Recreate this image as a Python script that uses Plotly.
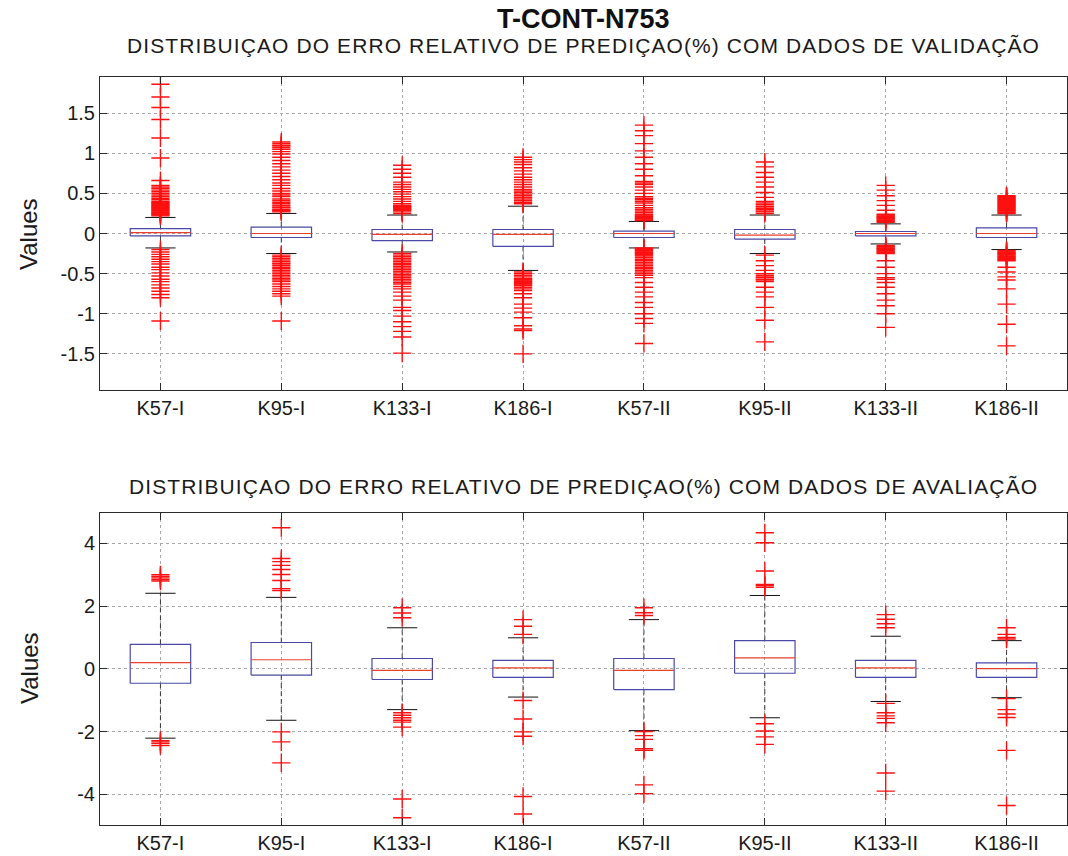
import plotly.graph_objects as go

# ---------------- data ----------------
categories = ["K57-I", "K95-I", "K133-I", "K186-I", "K57-II", "K95-II", "K133-II", "K186-II"]

# validation data (top panel)
val_q1 = [-0.03, -0.05, -0.09, -0.16, -0.05, -0.07, -0.03, -0.05]
val_med = [0.01, 0.00, -0.01, -0.01, 0.00, -0.02, 0.00, 0.00]
val_q3 = [0.06, 0.08, 0.05, 0.05, 0.03, 0.05, 0.025, 0.07]
val_lw = [-0.18, -0.25, -0.23, -0.46, -0.18, -0.25, -0.13, -0.20]
val_uw = [0.20, 0.25, 0.23, 0.34, 0.15, 0.23, 0.12, 0.23]
val_out = [
    [0.22, 0.23, 0.24, 0.25, 0.26, 0.27, 0.28, 0.29, 0.30, 0.31, 0.32, 0.33, 0.34, 0.35, 0.36,
     0.37, 0.38, 0.39, 0.40, 0.42, 0.44, 0.46, 0.48, 0.50, 0.52, 0.54, 0.56, 0.58, 0.60, 0.66,
     0.94, 1.19, 1.42, 1.57, 1.70, 1.86,
     -0.20, -0.23, -0.26, -0.29, -0.32, -0.35, -0.38, -0.42, -0.45, -0.49, -0.53, -0.57, -0.60,
     -0.64, -0.68, -0.72, -0.76, -0.80, -1.09],
    [0.27, 0.28, 0.29, 0.30, 0.32, 0.33, 0.35, 0.37, 0.39, 0.41, 0.43, 0.46, 0.48, 0.50, 0.53,
     0.56, 0.60, 0.63, 0.67, 0.71, 0.75, 0.79, 0.83, 0.87, 0.91, 0.95, 0.99, 1.02, 1.05, 1.07,
     1.09, 1.10, 1.12, 1.14,
     -0.27, -0.29, -0.31, -0.33, -0.35, -0.37, -0.38, -0.40, -0.42, -0.44, -0.46, -0.48, -0.50,
     -0.52, -0.54, -0.56, -0.58, -0.60, -0.63, -0.66, -0.69, -0.72, -0.75, -0.78, -1.09],
    [0.25, 0.27, 0.29, 0.30, 0.31, 0.32, 0.33, 0.34, 0.35, 0.37, 0.40, 0.43, 0.46, 0.49, 0.52,
     0.55, 0.58, 0.61, 0.64, 0.70, 0.75, 0.80, 0.85,
     -0.25, -0.27, -0.29, -0.31, -0.33, -0.35, -0.37, -0.39, -0.41, -0.43, -0.45, -0.47, -0.49,
     -0.51, -0.53, -0.55, -0.57, -0.59, -0.61, -0.63, -0.66, -0.69, -0.73, -0.78, -0.83, -0.92,
     -0.96, -1.03, -1.10, -1.16, -1.22, -1.29, -1.49],
    [0.37, 0.39, 0.41, 0.43, 0.45, 0.47, 0.49, 0.51, 0.53, 0.55, 0.58, 0.61, 0.64, 0.67, 0.70,
     0.74, 0.78, 0.82, 0.86, 0.89, 0.92, 0.95,
     -0.48, -0.50, -0.52, -0.54, -0.56, -0.57, -0.58, -0.59, -0.60, -0.61, -0.62, -0.63, -0.64,
     -0.65, -0.67, -0.69, -0.71, -0.75, -0.80, -0.88, -0.93, -0.98, -1.05, -1.15, -1.19, -1.21,
     -1.50],
    [0.16, 0.17, 0.18, 0.19, 0.20, 0.21, 0.22, 0.23, 0.24, 0.26, 0.28, 0.30, 0.32, 0.35, 0.38,
     0.40, 0.42, 0.44, 0.46, 0.50, 0.54, 0.58, 0.61, 0.63, 0.65, 0.72, 0.80, 0.87, 0.95, 1.03,
     1.12, 1.22, 1.28, 1.35,
     -0.18, -0.19, -0.20, -0.21, -0.22, -0.23, -0.24, -0.25, -0.26, -0.27, -0.28, -0.30, -0.32,
     -0.34, -0.36, -0.38, -0.40, -0.42, -0.44, -0.46, -0.48, -0.50, -0.52, -0.55, -0.61, -0.67,
     -0.73, -0.79, -0.86, -0.92, -1.00, -1.06, -1.12, -1.37],
    [0.25, 0.27, 0.28, 0.30, 0.31, 0.33, 0.34, 0.36, 0.38, 0.40, 0.45, 0.51, 0.58, 0.64, 0.70,
     0.76, 0.83, 0.89,
     -0.27, -0.34, -0.40, -0.46, -0.50, -0.52, -0.54, -0.55, -0.57, -0.58, -0.60, -0.67, -0.73,
     -0.79, -0.92, -1.08, -1.35],
    [0.14, 0.15, 0.16, 0.17, 0.18, 0.19, 0.20, 0.21, 0.22, 0.23, 0.24, 0.29, 0.35, 0.41, 0.47,
     0.54, 0.60,
     -0.15, -0.16, -0.17, -0.18, -0.19, -0.20, -0.21, -0.22, -0.23, -0.24, -0.25, -0.34, -0.42,
     -0.50, -0.55, -0.57, -0.61, -0.67, -0.75, -0.83, -0.90, -1.00, -1.17],
    [0.25, 0.26, 0.27, 0.28, 0.29, 0.30, 0.31, 0.32, 0.33, 0.34, 0.35, 0.36, 0.37, 0.38, 0.39,
     0.40, 0.41, 0.42, 0.43, 0.44, 0.45, 0.46, 0.47,
     -0.21, -0.22, -0.23, -0.24, -0.25, -0.26, -0.27, -0.28, -0.29, -0.30, -0.31, -0.32, -0.33,
     -0.34, -0.42, -0.48, -0.54, -0.58, -0.69, -0.88, -1.13, -1.40],
]

# evaluation data (bottom panel)
eval_q1 = [-0.46, -0.20, -0.34, -0.27, -0.66, -0.14, -0.27, -0.27]
eval_med = [0.20, 0.29, -0.05, 0.03, -0.05, 0.35, 0.03, 0.01]
eval_q3 = [0.78, 0.84, 0.33, 0.27, 0.33, 0.90, 0.27, 0.19]
eval_lw = [-2.21, -1.64, -1.30, -0.90, -1.97, -1.56, -1.04, -0.92]
eval_uw = [2.41, 2.28, 1.31, 0.99, 1.57, 2.34, 1.04, 0.90]
eval_out = [
    [2.80, 2.85, 2.90, 2.95, 3.00, -2.29, -2.33, -2.38, -2.45],
    [2.50, 2.56, 2.82, 3.01, 3.17, 3.30, 3.42, 3.52, 4.50, -2.01, -2.33, -3.00],
    [1.63, 1.78, 1.95, -1.40, -1.48, -1.56, -1.64, -1.70, -1.86, -4.15, -4.75],
    [1.10, 1.36, 1.57, -1.01, -1.60, -2.01, -2.15, -4.07, -4.63],
    [1.70, 1.79, 1.95, -2.00, -2.13, -2.25, -2.55, -2.60, -3.70, -3.98],
    [2.60, 2.65, 2.69, 3.12, 4.02, 4.34, -1.75, -1.98, -2.17, -2.41],
    [1.31, 1.44, 1.58, 1.73, -1.10, -1.40, -1.50, -1.58, -1.72, -3.32, -3.90],
    [0.95, 1.00, 1.10, 1.31, -0.95, -1.30, -1.44, -1.55, -2.60, -4.36],
]

val_ticks = [-1.5, -1, -0.5, 0, 0.5, 1, 1.5]
val_ticktext = ["-1.5", "-1", "-0.5", "0", "0.5", "1", "1.5"]
eval_ticks = [-4, -2, 0, 2, 4]
eval_ticktext = ["-4", "-2", "0", "2", "4"]

main_title = "T-CONT-N753"
sub_val = "DISTRIBUIÇAO DO ERRO RELATIVO DE PREDIÇAO(%) COM DADOS DE VALIDAÇÃO"
sub_eval = "DISTRIBUIÇAO DO ERRO RELATIVO DE PREDIÇAO(%) COM DADOS DE AVALIAÇÃO"
y_label = "Values"

# ---------------- styles ----------------
BOX_W = 0.5
CAP_W = 0.25
BOX_COLOR = "#4a4aa6"
MED_COLOR = "#e8402c"
WHISK_COLOR = "#3a3a3a"
OUT_COLOR = "#ff1010"
FONT = "Liberation Sans, Arial, sans-serif"

positions = list(range(1, len(categories) + 1))

fig = go.Figure()


def add_panel(q1, med, q3, lw, uw, outs, xa, ya):
    bx, by, mx, my, wx, wy, cx, cy = [], [], [], [], [], [], [], []
    ox, oy = [], []
    for p, a, m, b, lo, hi, o in zip(positions, q1, med, q3, lw, uw, outs):
        l, r = p - BOX_W / 2, p + BOX_W / 2
        bx += [l, r, r, l, l, None]
        by += [a, a, b, b, a, None]
        mx += [l, r, None]
        my += [m, m, None]
        wx += [p, p, None, p, p, None]
        wy += [b, hi, None, a, lo, None]
        cx += [p - CAP_W / 2, p + CAP_W / 2, None, p - CAP_W / 2, p + CAP_W / 2, None]
        cy += [hi, hi, None, lo, lo, None]
        ox += [p] * len(o)
        oy += list(o)
    fig.add_trace(go.Scatter(x=wx, y=wy, mode="lines", xaxis=xa, yaxis=ya,
                             line=dict(color=WHISK_COLOR, width=1, dash="5px,3px"),
                             showlegend=False, hoverinfo="skip"))
    fig.add_trace(go.Scatter(x=cx, y=cy, mode="lines", xaxis=xa, yaxis=ya,
                             line=dict(color="#111111", width=1),
                             showlegend=False, hoverinfo="skip"))
    fig.add_trace(go.Scatter(x=ox, y=oy, mode="markers", xaxis=xa, yaxis=ya,
                             marker=dict(symbol="cross-thin", size=13, color=OUT_COLOR,
                                         line=dict(color=OUT_COLOR, width=1.4)),
                             showlegend=False))
    fig.add_trace(go.Scatter(x=bx, y=by, mode="lines", xaxis=xa, yaxis=ya,
                             line=dict(color=BOX_COLOR, width=1.2),
                             showlegend=False, hoverinfo="skip"))
    fig.add_trace(go.Scatter(x=mx, y=my, mode="lines", xaxis=xa, yaxis=ya,
                             line=dict(color=MED_COLOR, width=1.2),
                             showlegend=False, hoverinfo="skip"))


add_panel(val_q1, val_med, val_q3, val_lw, val_uw, val_out, "x", "y")
add_panel(eval_q1, eval_med, eval_q3, eval_lw, eval_uw, eval_out, "x2", "y2")

axis_common = dict(
    showline=True, linecolor="#2a2a2a", linewidth=1, mirror="allticks",
    ticks="inside", ticklen=7, tickcolor="#2a2a2a", tickwidth=1,
    showgrid=True, gridcolor="#a8a8a8", griddash="dot", gridwidth=1,
    zeroline=False, tickfont=dict(family=FONT, size=20, color="#1a1a1a"),
)

H, W = 856, 1068
T, B = 77, 31
plot_h = H - T - B

top_lo = (H - B - 390) / plot_h
bot_hi = (H - B - 512.7) / plot_h

fig.update_layout(
    width=W, height=H,
    margin=dict(l=100, r=1, t=T, b=B),
    paper_bgcolor="white", plot_bgcolor="white",
    showlegend=False,
    xaxis=dict(domain=[0, 1], anchor="y", range=[0.5, 8.5],
               tickmode="array", tickvals=positions, ticktext=categories, **axis_common),
    yaxis=dict(domain=[top_lo, 1], anchor="x", range=[-1.95, 1.95],
               tickmode="array", tickvals=val_ticks, ticktext=val_ticktext, **axis_common),
    xaxis2=dict(domain=[0, 1], anchor="y2", range=[0.5, 8.5],
                tickmode="array", tickvals=positions, ticktext=categories, **axis_common),
    yaxis2=dict(domain=[0, bot_hi], anchor="x2", range=[-4.98, 4.98],
                tickmode="array", tickvals=eval_ticks, ticktext=eval_ticktext, **axis_common),
)


def py(ypix):
    return (H - B - ypix) / plot_h


def px(xpix):
    return (xpix - 100) / (W - 100 - 1)


def spaced(s):
    return '<span style="letter-spacing:1.1px">' + s + '</span>'


annotations = [
    dict(text="<b>" + main_title + "</b>", x=0.5, y=py(19), xref="paper", yref="paper",
         showarrow=False, xanchor="center", yanchor="middle", borderpad=0,
         font=dict(family=FONT, size=27, color="#111111")),
    dict(text=spaced(sub_val), x=0.5, y=py(45.5), xref="paper", yref="paper",
         showarrow=False, xanchor="center", yanchor="middle", borderpad=0,
         font=dict(family=FONT, size=21, color="#1a1a1a")),
    dict(text=spaced(sub_eval), x=0.5, y=py(486), xref="paper", yref="paper",
         showarrow=False, xanchor="center", yanchor="middle", borderpad=0,
         font=dict(family=FONT, size=21, color="#1a1a1a")),
    dict(text=y_label, x=px(29), y=py(234), xref="paper", yref="paper", textangle=-90,
         showarrow=False, xanchor="center", yanchor="middle",
         font=dict(family=FONT, size=24, color="#1a1a1a")),
    dict(text=y_label, x=px(29), y=py(668), xref="paper", yref="paper", textangle=-90,
         showarrow=False, xanchor="center", yanchor="middle",
         font=dict(family=FONT, size=24, color="#1a1a1a")),
]
fig.update_layout(annotations=annotations)

fig.write_html("out.html")
